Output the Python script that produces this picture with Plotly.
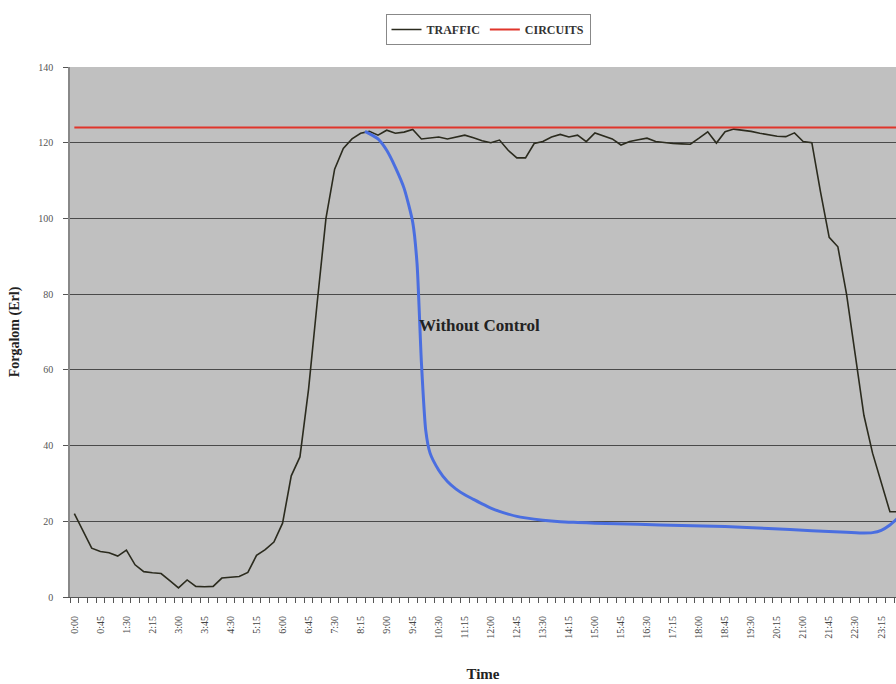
import plotly.graph_objects as go

# ---- data ----
TIME_LABELS = ["0:00", "0:45", "1:30", "2:15", "3:00", "3:45", "4:30", "5:15",
               "6:00", "6:45", "7:30", "8:15", "9:00", "9:45", "10:30", "11:15",
               "12:00", "12:45", "13:30", "14:15", "15:00", "15:45", "16:30", "17:15",
               "18:00", "18:45", "19:30", "20:15", "21:00", "21:45", "22:30", "23:15"]
LABEL_POS = [0, 3, 6, 9, 12, 15, 18, 21, 24, 27, 30, 33, 36, 39, 42, 45,
             48, 51, 54, 57, 60, 63, 66, 69, 72, 75, 78, 81, 84, 87, 90, 93]

SLOT = list(range(96))  # 15-minute slots 0:00 .. 23:45

TRAFFIC = [22, 17.3, 12.9, 12, 11.7, 10.8, 12.4, 8.5, 6.7, 6.4, 6.2, 4.3,
           2.4, 4.5, 2.8, 2.7, 2.8, 5, 5.3, 5.4, 6.5, 11, 12.5, 14.5,
           19.5, 32, 37, 55, 78, 100, 113, 118.5, 121, 122.5, 123, 122,
           123.3, 122.5, 122.8, 123.5, 121, 121.3, 121.5, 121, 121.5, 122, 121.3, 120.5,
           120, 120.7, 118, 116, 116, 119.8, 120.3, 121.5, 122.2, 121.5, 122, 120.3,
           122.6, 121.8, 121, 119.4, 120.3, 120.8, 121.2, 120.3, 120, 119.8, 119.7, 119.6,
           121.2, 122.9, 119.9, 122.9, 123.6, 123.3, 123, 122.5, 122, 121.7, 121.6, 122.6,
           120.3, 120, 107, 95, 92.5, 80, 64, 48, 38, 30, 22.5, 22.5]

CIRCUITS = [124, 124, 124, 124, 124, 124, 124, 124, 124, 124, 124, 124,
            124, 124, 124, 124, 124, 124, 124, 124, 124, 124, 124, 124,
            124, 124, 124, 124, 124, 124, 124, 124, 124, 124, 124, 124,
            124, 124, 124, 124, 124, 124, 124, 124, 124, 124, 124, 124,
            124, 124, 124, 124, 124, 124, 124, 124, 124, 124, 124, 124,
            124, 124, 124, 124, 124, 124, 124, 124, 124, 124, 124, 124,
            124, 124, 124, 124, 124, 124, 124, 124, 124, 124, 124, 124,
            124, 124, 124, 124, 124, 124, 124, 124, 124, 124, 124, 124]

# hand-drawn "without control" curve
BLUE_X = [33.5, 35, 36, 37, 38, 39, 39.5, 40, 40.5, 41, 42, 43, 44, 45, 46, 47, 48, 49,
          50, 51, 52, 54, 56, 58, 60, 65, 70, 75, 80, 85, 89, 91, 92, 93, 94, 95]
BLUE_Y = [123, 121, 118, 113.5, 108, 99, 88, 62, 44, 38, 33.5, 30.5, 28.5, 27, 25.8, 24.6, 23.5, 22.6,
          21.9, 21.3, 20.9, 20.3, 19.9, 19.7, 19.5, 19.2, 18.9, 18.6, 18.1, 17.5, 17.1, 16.9, 17, 17.6, 19, 21]

fig = go.Figure()
fig.add_trace(go.Scatter(x=SLOT, y=TRAFFIC, mode="lines", name="TRAFFIC",
                         line=dict(color="#2b2b1e", width=1.6)))
fig.add_trace(go.Scatter(x=SLOT, y=CIRCUITS, mode="lines", name="CIRCUITS",
                         line=dict(color="#e0352b", width=2)))
fig.add_trace(go.Scatter(x=BLUE_X, y=BLUE_Y, mode="lines", showlegend=False,
                         line=dict(color="#4a6ee0", width=3, shape="spline", smoothing=0.6)))

fig.add_annotation(x=46.7, y=71.8, text="<b>Without Control</b>", showarrow=False,
                   font=dict(family="Liberation Serif", size=17, color="#222222"))

fig.update_layout(
    width=896, height=684,
    margin=dict(l=70, r=0, t=67, b=87),
    paper_bgcolor="white", plot_bgcolor="#c0c0c0",
    font=dict(family="Liberation Serif", color="#333333"),
    showlegend=True,
    legend=dict(orientation="h", xref="container", yref="container",
                x=488 / 896, xanchor="center", y=1 - 14 / 684, yanchor="top",
                bgcolor="white", bordercolor="#888888", borderwidth=1,
                font=dict(family="Liberation Serif", size=12, color="#333333", weight=700),
                itemwidth=30),
    xaxis=dict(range=[-0.5, 94.7], tickmode="array", tickvals=LABEL_POS, ticktext=TIME_LABELS,
               tickangle=-90, ticks="", showgrid=False, zeroline=False,
               showline=True, linecolor="#555555", linewidth=1,
               ticklabelstandoff=14,
               tickfont=dict(family="Liberation Serif", size=10, color="#444444"),
               minor=dict(tickmode="linear", tick0=-0.5, dtick=1, ticks="outside",
                          ticklen=5, tickcolor="#555555", showgrid=False),
               title=dict(text="<b>Time</b>", standoff=30,
                          font=dict(family="Liberation Serif", size=15, color="#222222"))),
    yaxis=dict(range=[0, 140], tickmode="array", tickvals=[0, 20, 40, 60, 80, 100, 120, 140],
               ticks="outside", ticklen=5, tickcolor="#555555",
               showgrid=True, gridcolor="#4a4a4a", gridwidth=1.3, zeroline=False,
               showline=True, linecolor="#888888", linewidth=1.5,
               ticklabelstandoff=8,
               tickfont=dict(family="Liberation Serif", size=10, color="#555555"),
               title=dict(text="<b>Forgalom (Erl)</b>", standoff=15,
                          font=dict(family="Liberation Serif", size=14, color="#222222"))),
)

fig.write_html("out.html")
